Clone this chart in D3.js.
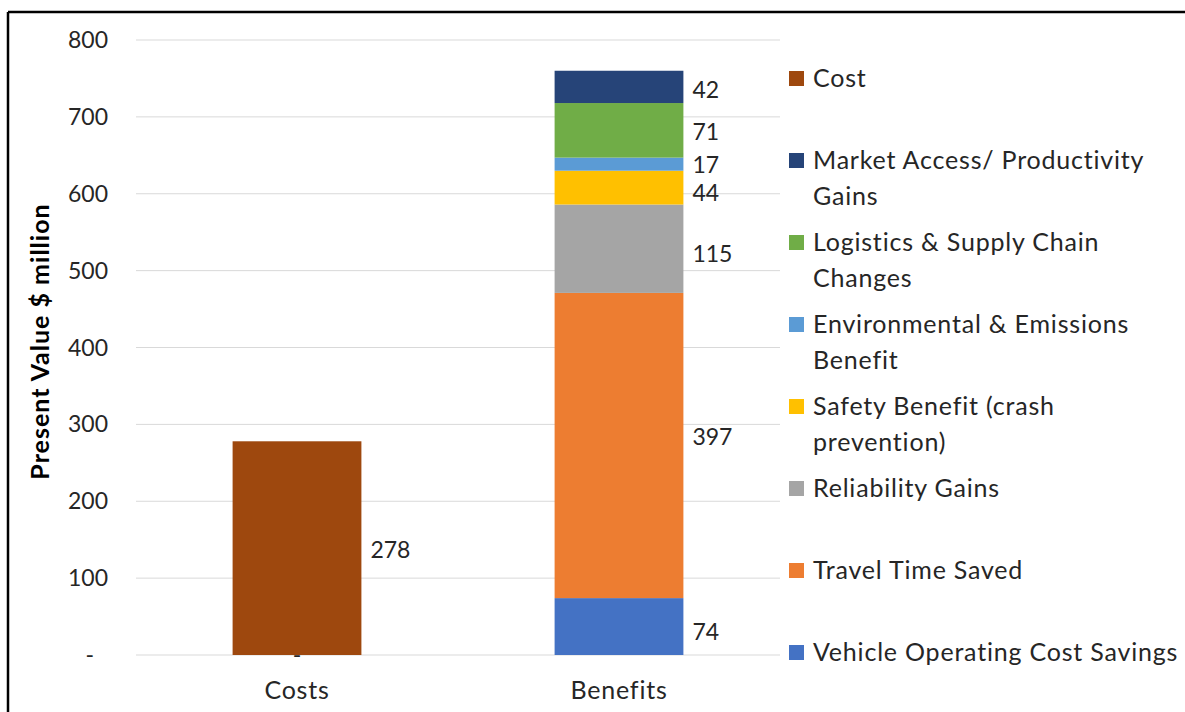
<html><head>
<script src="https://d3js.org/d3.v7.min.js"></script>
<style>
  body { margin: 0; background: #fff; }
  text { font-family: Lato, "Open Sans", sans-serif; fill: #262626; }
  line.grid { stroke: #d9d9d9; stroke-width: 1px; }
  text.tick { text-anchor: end; font-size: 23px; }
</style>
</head>
<body>
<svg id="chart" width="1185" height="712"></svg>
<script>
  // categories on the x axis
  const categories = ["Costs", "Benefits"];
  // stacked series, bottom to top for Benefits
  const benefitNames = ["Vehicle Operating Cost Savings", "Travel Time Saved", "Reliability Gains",
                        "Safety Benefit (crash prevention)", "Environmental & Emissions Benefit",
                        "Logistics & Supply Chain Changes", "Market Access/ Productivity Gains"];
  const benefitValues = [74, 397, 115, 44, 17, 71, 42];
  const benefitColors = ["#4472C4", "#ED7D31", "#A5A5A5", "#FFC000", "#5B9BD5", "#70AD47", "#264478"];
  const costName = "Cost";
  const costValue = 278;
  const costColor = "#9E480E";
  // y ticks
  const yTicks = [0, 100, 200, 300, 400, 500, 600, 700, 800];
  // legend, top to bottom, with Excel's wrapping
  const legendNames = ["Cost", "Market Access/ Productivity|Gains", "Logistics & Supply Chain|Changes",
                       "Environmental & Emissions|Benefit", "Safety Benefit (crash|prevention)",
                       "Reliability Gains", "Travel Time Saved", "Vehicle Operating Cost Savings"];

  const svg = d3.select("#chart");
  const plotLeft = 136, plotRight = 780, plotTop = 40, plotBottom = 655;

  const x = d3.scaleBand().domain(categories).range([plotLeft, plotRight]).paddingInner(0.6).paddingOuter(0.3);
  const y = d3.scaleLinear().domain([0, 800]).range([plotBottom, plotTop]);

  // frame
  svg.append("line").attr("x1", 8).attr("x2", 1185).attr("y1", 12).attr("y2", 12)
     .attr("stroke", "#000").attr("stroke-width", 2.5);
  svg.append("line").attr("x1", 8).attr("x2", 8).attr("y1", 12).attr("y2", 712)
     .attr("stroke", "#000").attr("stroke-width", 2.5);

  // gridlines and tick labels
  svg.selectAll("line.grid").data(yTicks).join("line")
     .attr("class", "grid")
     .attr("x1", plotLeft).attr("x2", plotRight)
     .attr("y1", d => y(d)).attr("y2", d => y(d));
  svg.selectAll("text.tick").data(yTicks).join("text")
     .attr("class", "tick")
     .attr("x", d => d == 0 ? 94 : 108)
     .attr("y", d => y(d))
     .attr("dy", "0.35em")
     .text(d => d == 0 ? "-" : d);

  // axis title
  svg.append("text")
     .attr("transform", "translate(49," + ((plotTop + plotBottom) / 2 - 6) + ") rotate(-90)")
     .attr("text-anchor", "middle")
     .style("font-size", "25px").style("font-weight", "bold").style("fill", "#000")
     .style("letter-spacing", "1px")
     .text("Present Value $ million");

  // category labels
  svg.selectAll("text.cat").data(categories).join("text")
     .attr("class", "cat")
     .attr("x", d => x(d) + x.bandwidth() / 2)
     .attr("y", 699)
     .attr("text-anchor", "middle")
     .style("font-size", "25px").style("letter-spacing", "0.8px")
     .text(d => d);

  // cost bar
  svg.append("rect")
     .attr("x", x("Costs")).attr("width", x.bandwidth())
     .attr("y", y(costValue)).attr("height", y(0) - y(costValue))
     .attr("fill", costColor);
  svg.append("text")
     .attr("x", x("Costs") + x.bandwidth() + 9)
     .attr("y", (y(costValue) + y(0)) / 2 + 2)
     .attr("dy", "0.35em")
     .style("font-size", "23px")
     .text(costValue);
  // zero label under cost bar
  svg.append("text")
     .attr("x", x("Costs") + x.bandwidth() / 2)
     .attr("y", y(0) + 8)
     .attr("text-anchor", "middle")
     .style("font-size", "23px")
     .text("-");

  // benefits stack
  let stackData = benefitValues.map((v, i) => {
    let base = d3.sum(benefitValues.slice(0, i));
    return {name: benefitNames[i], value: v, y0: base, y1: base + v, color: benefitColors[i]};
  });
  svg.selectAll("rect.seg").data(stackData).join("rect")
     .attr("class", "seg")
     .attr("x", x("Benefits")).attr("width", x.bandwidth())
     .attr("y", d => y(d.y1)).attr("height", d => y(d.y0) - y(d.y1))
     .attr("fill", d => d.color);
  // labels (small nudges where Excel moved them apart)
  const labelNudge = [5, -9, 5, 5, 1, 2, 3];
  svg.selectAll("text.seglabel").data(stackData).join("text")
     .attr("class", "seglabel")
     .attr("x", x("Benefits") + x.bandwidth() + 9)
     .attr("y", (d, i) => (y(d.y0) + y(d.y1)) / 2 + labelNudge[i])
     .attr("dy", "0.35em")
     .style("font-size", "23px")
     .text(d => d.value);

  // legend
  const legendColor = {};
  legendColor[costName] = costColor;
  benefitNames.forEach((n, i) => legendColor[n] = benefitColors[i]);
  const ly = d3.scalePoint().domain(legendNames).range([78, 652]);
  const legend = svg.selectAll("g.legend").data(legendNames).join("g")
     .attr("class", "legend")
     .attr("transform", d => "translate(789," + ly(d) + ")");
  legend.append("rect")
     .attr("x", 0).attr("y", -7).attr("width", 15).attr("height", 15)
     .attr("fill", d => legendColor[d.replace("|", " ")]);
  legend.append("text")
     .attr("x", 24).attr("y", 0)
     .style("font-size", "25px").style("letter-spacing", "0.8px")
     .selectAll("tspan").data(d => d.split("|")).join("tspan")
       .attr("x", 24)
       .attr("dy", (d, i) => i == 0 ? "0.35em" : "1.44em")
       .text(d => d);
</script>
</body>
</html>
